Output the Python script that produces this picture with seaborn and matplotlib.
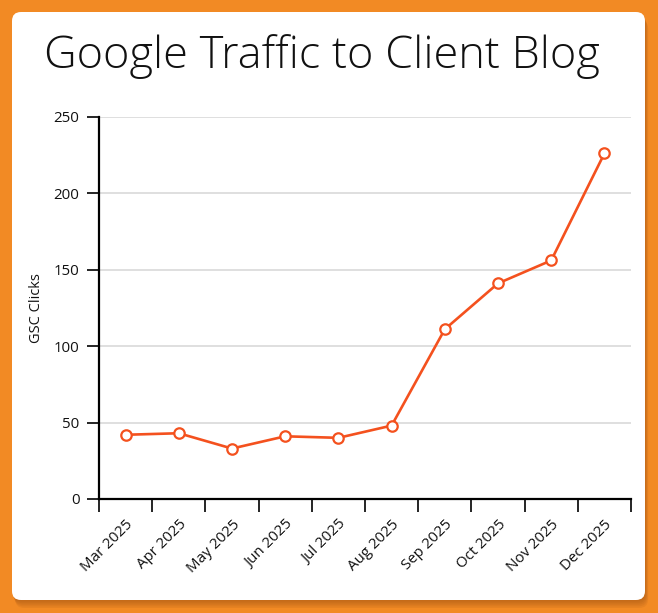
import matplotlib
matplotlib.use("Agg")
import matplotlib.pyplot as plt
import seaborn as sns
import pandas as pd
import numpy as np
from matplotlib.patches import FancyBboxPatch

months = ["Mar 2025", "Apr 2025", "May 2025", "Jun 2025", "Jul 2025",
          "Aug 2025", "Sep 2025", "Oct 2025", "Nov 2025", "Dec 2025"]
clicks = [42, 43, 33, 41, 40, 48, 111, 141, 156, 226]
y_ticks = [0, 50, 100, 150, 200, 250]

title_text = "Google Traffic to Client Blog"
y_label = "GSC Clicks"

sns.set_theme(style="white")
plt.rcParams["font.family"] = ["Open Sans", "DejaVu Sans"]

W, H = 658, 613
fig = plt.figure(figsize=(W / 100, H / 100), dpi=100)
fig.patch.set_facecolor("#F28A24")

# shadow layers
for i in range(5):
    off = (i + 1) * 1.6
    sh = FancyBboxPatch((12 / 100 + off / 100 * 0.4, (H - 600) / 100 - off / 100),
                        (645 - 12) / 100, (600 - 12) / 100,
                        boxstyle="round,pad=0,rounding_size=0.09",
                        transform=fig.dpi_scale_trans, facecolor="#8A4510",
                        edgecolor="none", alpha=0.10, zorder=-3)
    fig.patches.append(sh)

card = FancyBboxPatch((12 / 100, (H - 600) / 100), (645 - 12) / 100, (600 - 12) / 100,
                      boxstyle="round,pad=0,rounding_size=0.09",
                      transform=fig.dpi_scale_trans, facecolor="white",
                      edgecolor="none", zorder=-2)
fig.patches.append(card)

left, right = 99 / W, 631 / W
bottom = (H - 499) / H
top = (H - 116.7) / H
ax = fig.add_axes([left, bottom, right - left, top - bottom])
ax.set_zorder(5)
ax.set_facecolor("none")

df = pd.DataFrame({"month": months, "clicks": clicks})
df["pos"] = np.arange(len(months))

line_color = "#F4511E"
sns.lineplot(data=df, x="pos", y="clicks", ax=ax, color=line_color, linewidth=1.9,
             marker="o", markersize=7.5, markerfacecolor="white",
             markeredgecolor=line_color, markeredgewidth=1.6, zorder=3)

ax.set_xlim(-0.5, len(months) - 0.5)
ax.set_ylim(0, 250)
ax.set_yticks(y_ticks)
ax.set_yticklabels([str(v) for v in y_ticks], fontsize=10.8, color="#111111")
ax.yaxis.grid(True, color="#d6d6d6", linewidth=1.1)
ax.set_axisbelow(True)

ax.set_xticks(df["pos"])
ax.set_xticklabels(months, rotation=45, ha="right", rotation_mode="anchor",
                   fontsize=10.8, color="#111111")
ax.set_xticks(np.arange(-0.5, len(months)), minor=True)
ax.tick_params(axis="x", which="major", length=0, pad=13, bottom=True)
ax.tick_params(axis="x", which="minor", length=9, width=1.2, color="black",
               direction="out", bottom=True)
ax.tick_params(axis="y", which="major", length=9, width=1.2, color="black", pad=5,
               direction="out", left=True)

for s in ["top", "right"]:
    ax.spines[s].set_visible(False)
for s in ["left", "bottom"]:
    ax.spines[s].set_color("black")
    ax.spines[s].set_linewidth(1.6)

ax.set_xlabel("")
ax.set_ylabel(y_label, fontsize=10.5, color="#111111", labelpad=7)

fig.text(322 / W, 1 - 57 / H, title_text, ha="center", va="center",
         fontsize=32.5, color="#111111", fontweight=300,
         family=["Open Sans", "DejaVu Sans"])

fig.savefig("out.png", dpi=100, facecolor=fig.get_facecolor())
